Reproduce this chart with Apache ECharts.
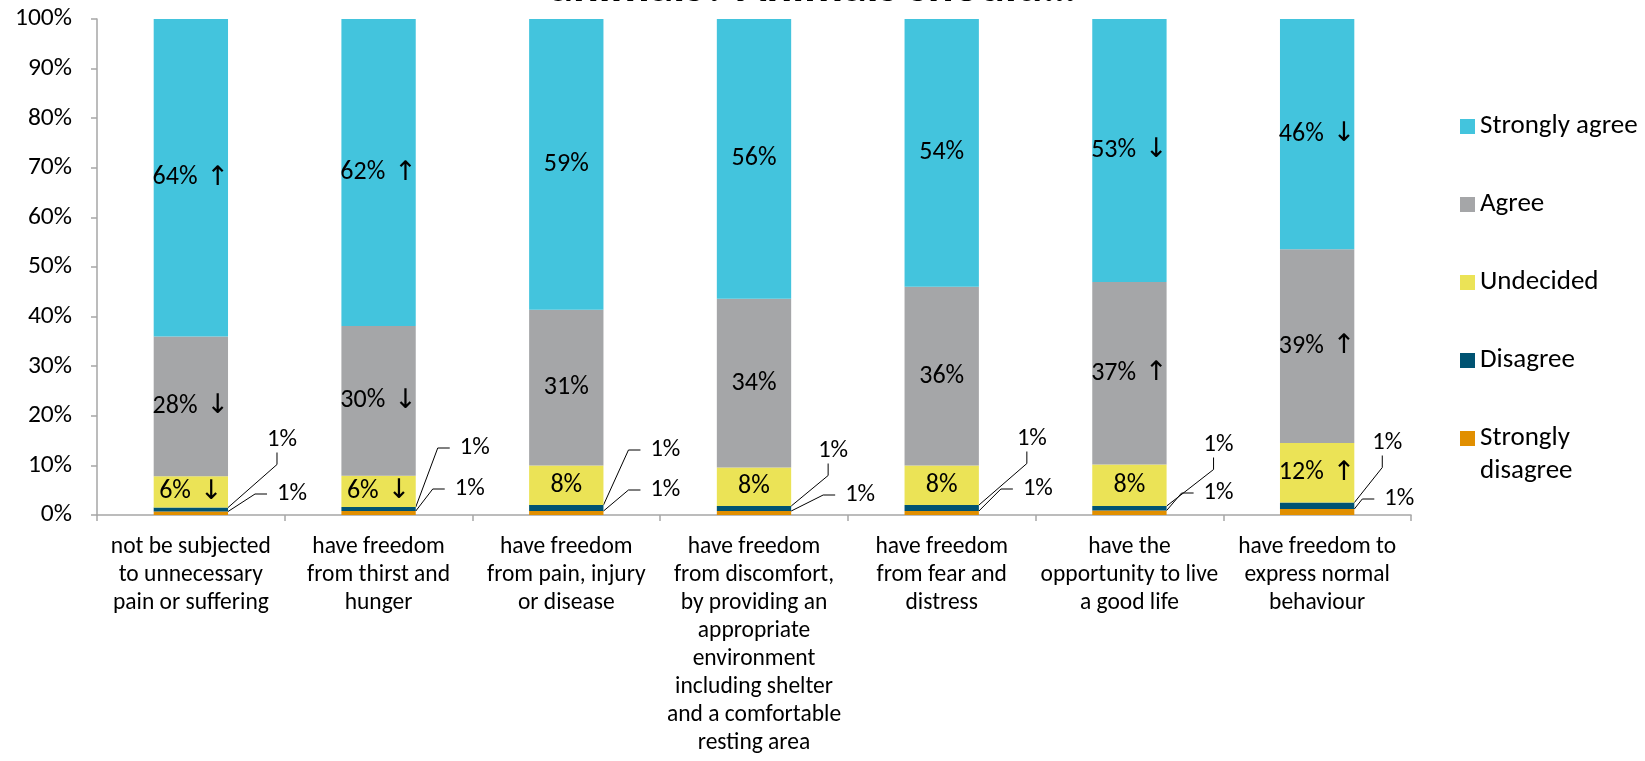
<!DOCTYPE html>
<html>
<head>
<meta charset="utf-8">
<script src="https://cdn.jsdelivr.net/npm/echarts@6/dist/echarts.min.js"></script>
<style>
html,body{margin:0;padding:0;background:#fff;}
#chart{width:1645px;height:761px;}
</style>
</head>
<body>
<div id="chart"></div>
<script>
// ---- data ----
const categories = [
  'not be subjected\nto unnecessary\npain or suffering',
  'have freedom\nfrom thirst and\nhunger',
  'have freedom\nfrom pain, injury\nor disease',
  'have freedom\nfrom discomfort,\nby providing an\nappropriate\nenvironment\nincluding shelter\nand a comfortable\nresting area',
  'have freedom\nfrom fear and\ndistress',
  'have the\nopportunity to live\na good life',
  'have freedom to\nexpress normal\nbehaviour'
];
const stronglyDisagree = [0.7, 0.8, 0.8, 0.8, 0.8, 0.9, 1.2];
const disagree         = [0.8, 0.8, 1.2, 1.0, 1.2, 0.9, 1.3];
const undecided        = [6.3, 6.3, 8.0, 7.8, 8.0, 8.4, 12.0];
const agree            = [28.2, 30.2, 31.4, 34.0, 36.0, 36.8, 39.1];
const stronglyAgree    = [64.0, 61.9, 58.6, 56.4, 54.0, 53.0, 46.4];
// change arrows shown next to labels
const trendSA = ['↑', '↑', '', '', '', '↓', '↓'];
const trendA  = ['↓', '↓', '', '', '', '↑', '↑'];
const trendU  = ['↓', '↓', '', '', '', '', '↑'];
const yTicks = [0, 10, 20, 30, 40, 50, 60, 70, 80, 90, 100];
const titleText = 'animals? Animals should…';

// ---- layout of the small outside callout labels (px) ----
const upperDx = [39, 44, 47, 27, 38, 37, 18];
const upperDy = [75, 67, 65, 64, 76, 70, 72];
const lowerDx = [49, 39, 47, 54, 44, 37, 30];
const lowerDy = [21, 26, 25, 20, 26, 22, 16];

const FONT = 'Carlito, Lato, "DejaVu Sans", sans-serif';
const colors = {
  sa: '#43c4dd', a: '#a5a6a8', u: '#ebe356', d: '#005372', sd: '#e18f00'
};

const chart = echarts.init(document.getElementById('chart'), null, {renderer: 'canvas'});

function insideLabel(values, trends) {
  return {
    show: true,
    position: 'inside',
    fontFamily: FONT,
    fontSize: 26,
    color: '#000',
    formatter: function (p) {
      const t = trends[p.dataIndex];
      return '{v|' + Math.round(values[p.dataIndex]) + '%}' + (t ? '{a|' + t + '}' : '');
    },
    rich: {
      v: {fontFamily: FONT, fontSize: 26, color: '#000'},
      a: {fontFamily: '"DejaVu Sans", sans-serif', fontSize: 27, color: '#000', padding: [0, 0, 0, 9]}
    }
  };
}

function calloutSeries(name, values, color, dxArr, dyArr) {
  return {
    name: name,
    type: 'bar',
    stack: 'total',
    barWidth: '39.6%',
    data: values,
    itemStyle: {color: color},
    label: {
      show: true,
      position: 'right',
      fontFamily: FONT,
      fontSize: 24.5,
      color: '#000',
      backgroundColor: 'rgba(255,255,255,0)',
      padding: [0, 0, 0, 10],
      formatter: function (p) { return Math.round(values[p.dataIndex]) + '%'; }
    },
    labelLine: {
      show: true,
      length2: 12,
      lineStyle: {color: '#000', width: 1}
    },
    labelLayout: function (p) {
      const y0 = chart.convertToPixel({yAxisIndex: 0}, 0);
      const right = p.rect.x + p.rect.width;
      return {
        x: right + dxArr[p.dataIndex] - 10,
        y: y0 - dyArr[p.dataIndex],
        align: 'left',
        verticalAlign: 'middle'
      };
    }
  };
}

const option = {
  backgroundColor: '#fff',
  animation: false,
  title: {
    text: titleText,
    left: 808,
    textAlign: 'center',
    top: -40,
    textStyle: {fontFamily: FONT, fontSize: 48, fontWeight: 'bold', color: '#000'}
  },
  legend: {
    orient: 'vertical',
    left: 1455,
    top: 105,
    itemGap: 45,
    itemWidth: 15,
    itemHeight: 15,
    icon: 'rect',
    data: [
      'Strongly agree', 'Agree', 'Undecided', 'Disagree',
      {name: 'Strongly disagree', textStyle: {padding: [0, 0, -33, 0]}}
    ],
    formatter: function (n) { return n === 'Strongly disagree' ? 'Strongly\ndisagree' : n; },
    textStyle: {
      fontFamily: FONT, fontSize: 27, lineHeight: 33, color: '#000',
      rich: {t: {fontFamily: FONT, fontSize: 27, lineHeight: 33, color: '#000'}}
    }
  },
  grid: {left: 97, right: 234, top: 19, bottom: 246, containLabel: false},
  xAxis: {
    type: 'category',
    data: categories,
    axisLine: {show: true, lineStyle: {color: '#a6a6a6', width: 1.5}},
    axisTick: {show: true, length: 6, lineStyle: {color: '#a6a6a6', width: 1.5}},
    axisLabel: {
      interval: 0, margin: 18,
      fontFamily: FONT, fontSize: 23.5, lineHeight: 28, color: '#000'
    }
  },
  yAxis: {
    type: 'value',
    min: yTicks[0],
    max: yTicks[yTicks.length - 1],
    interval: yTicks[1] - yTicks[0],
    splitLine: {show: false},
    axisLine: {show: true, lineStyle: {color: '#a6a6a6', width: 1.5}},
    axisTick: {show: true, length: 6, lineStyle: {color: '#a6a6a6', width: 1.5}},
    axisLabel: {
      margin: 25, formatter: '{value}%',
      fontFamily: FONT, fontSize: 25.5, color: '#000'
    }
  },
  series: [
    calloutSeries('Strongly disagree', stronglyDisagree, colors.sd, lowerDx, lowerDy),
    calloutSeries('Disagree', disagree, colors.d, upperDx, upperDy),
    {
      name: 'Undecided', type: 'bar', stack: 'total', barWidth: '39.6%',
      data: undecided, itemStyle: {color: colors.u},
      label: insideLabel(undecided, trendU)
    },
    {
      name: 'Agree', type: 'bar', stack: 'total', barWidth: '39.6%',
      data: agree, itemStyle: {color: colors.a},
      label: insideLabel(agree, trendA)
    },
    {
      name: 'Strongly agree', type: 'bar', stack: 'total', barWidth: '39.6%',
      data: stronglyAgree, itemStyle: {color: colors.sa},
      label: insideLabel(stronglyAgree, trendSA)
    }
  ]
};
chart.setOption(option);
</script>
</body>
</html>
